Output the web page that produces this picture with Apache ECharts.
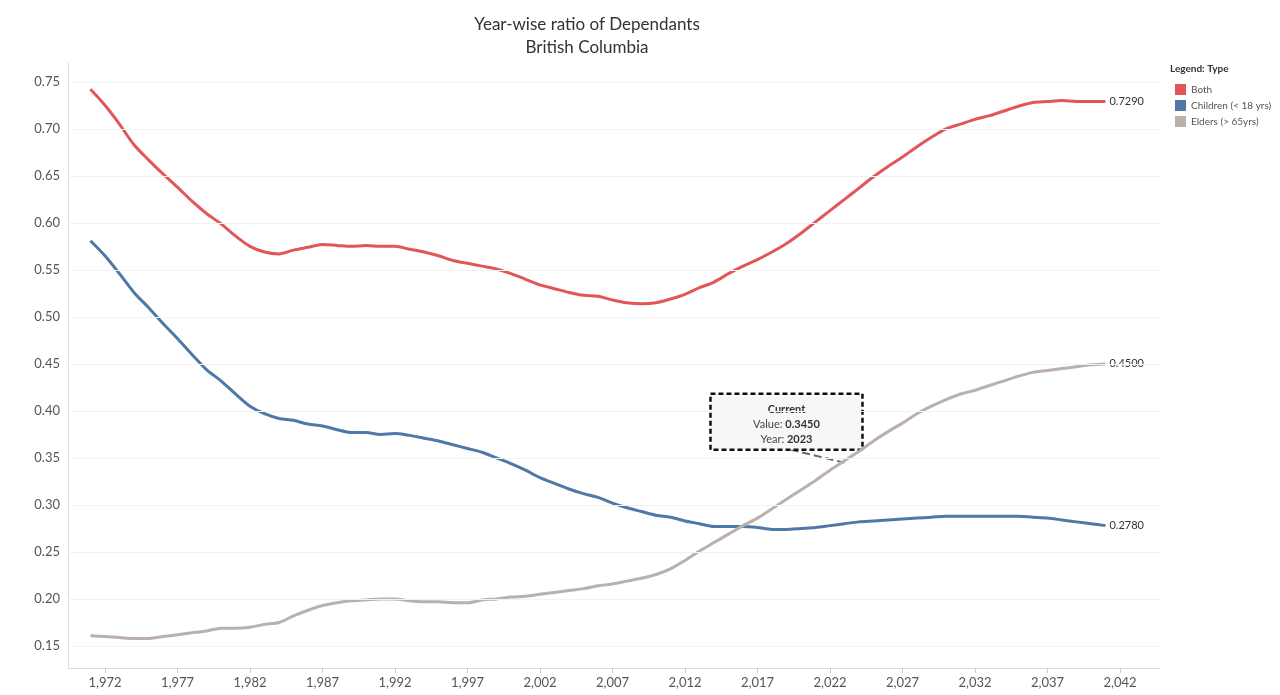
<!DOCTYPE html>
<html>
<head>
<meta charset="utf-8">
<script src="https://cdn.jsdelivr.net/npm/echarts@6/dist/echarts.min.js"></script>
<style>
  html, body { margin: 0; padding: 0; background: #fff; }
  #chart { width: 1280px; height: 695px; }
</style>
</head>
<body>
<div id="chart"></div>
<script>
const years = [];
for (let y = 1971; y <= 2041; y++) years.push(y);

const both = [
  0.742, 0.725, 0.705, 0.683, 0.667, 0.652, 0.638, 0.623, 0.610, 0.599,
  0.586, 0.575, 0.569, 0.567, 0.571, 0.574, 0.577, 0.576, 0.575, 0.576,
  0.575, 0.575, 0.572, 0.569, 0.565, 0.560, 0.557, 0.554, 0.551, 0.546,
  0.540, 0.534, 0.530, 0.526, 0.523, 0.522, 0.518, 0.515, 0.514, 0.515,
  0.519, 0.524, 0.531, 0.537, 0.546, 0.554, 0.561, 0.569, 0.578, 0.589,
  0.601, 0.613, 0.625, 0.637, 0.649, 0.660, 0.670, 0.681, 0.691, 0.700,
  0.705, 0.710, 0.714, 0.719, 0.724, 0.728, 0.729, 0.730, 0.729, 0.729,
  0.729,
];
const children = [
  0.581, 0.565, 0.546, 0.526, 0.510, 0.493, 0.477, 0.460, 0.444, 0.432,
  0.418, 0.405, 0.397, 0.392, 0.390, 0.386, 0.384, 0.380, 0.377, 0.377,
  0.375, 0.376, 0.374, 0.371, 0.368, 0.364, 0.360, 0.356, 0.350, 0.344,
  0.337, 0.329, 0.323, 0.317, 0.312, 0.308, 0.302, 0.297, 0.293, 0.289,
  0.287, 0.283, 0.280, 0.277, 0.277, 0.277, 0.276, 0.274, 0.274, 0.275,
  0.276, 0.278, 0.280, 0.282, 0.283, 0.284, 0.285, 0.286, 0.287, 0.288,
  0.288, 0.288, 0.288, 0.288, 0.288, 0.287, 0.286, 0.284, 0.282, 0.280,
  0.278,
];
const elders = [
  0.161, 0.160, 0.159, 0.158, 0.158, 0.160, 0.162, 0.164, 0.166, 0.169,
  0.169, 0.170, 0.173, 0.175, 0.182, 0.188, 0.193, 0.196, 0.198, 0.199,
  0.200, 0.200, 0.198, 0.197, 0.197, 0.196, 0.196, 0.199, 0.200, 0.202,
  0.203, 0.205, 0.207, 0.209, 0.211, 0.214, 0.216, 0.219, 0.222, 0.226,
  0.232, 0.241, 0.251, 0.260, 0.269, 0.278, 0.286, 0.296, 0.306, 0.316,
  0.326, 0.337, 0.347, 0.357, 0.368, 0.378, 0.387, 0.397, 0.405, 0.412,
  0.418, 0.422, 0.427, 0.432, 0.437, 0.441, 0.443, 0.445, 0.447, 0.449,
  0.450,
];
const xTicks = [1972, 1977, 1982, 1987, 1992, 1997, 2002, 2007, 2012, 2017, 2022, 2027, 2032, 2037, 2042];
const yTicks = [0.15, 0.2, 0.25, 0.3, 0.35, 0.4, 0.45, 0.5, 0.55, 0.6, 0.65, 0.7, 0.75];
const seriesNames = ["Both", "Children (< 18 yrs)", "Elders (> 65yrs)"];
const colors = ["#e15759", "#4e79a7", "#bab0ac"];
const current = { year: 2023, value: 0.345 };

const FONT = "Lato, 'Open Sans', sans-serif";
const chart = echarts.init(document.getElementById("chart"));

function makeSeries(name, values, color) {
  return {
    name,
    type: "line",
    data: years.map((y, i) => [y, values[i]]),
    showSymbol: false,
    smooth: 0.3,
    lineStyle: { color, width: 3 },
    itemStyle: { color },
    endLabel: {
      show: true,
      formatter: (p) => p.value[1].toFixed(4),
      color: "#333",
      fontSize: 11,
      fontFamily: FONT,
      distance: 4,
    },
  };
}

chart.setOption({
  animation: false,
  title: {
    text: "Year-wise ratio of Dependants\nBritish Columbia",
    left: 582,
    top: 8,
    textAlign: "center",
    textStyle: { fontSize: 17, fontWeight: "normal", color: "#333", lineHeight: 23, fontFamily: FONT },
  },
  legend: {
    orient: "vertical",
    left: 1170,
    top: 79,
    itemWidth: 11,
    itemHeight: 11,
    itemGap: 5,
    icon: "rect",
    data: seriesNames,
    textStyle: { fontSize: 10, color: "#555", fontFamily: FONT },
  },
  grid: { left: 68, right: 120, top: 63, bottom: 27 },
  xAxis: {
    type: "value",
    min: 1969.45,
    max: 2044.76,
    splitLine: { show: false },
    axisLine: { lineStyle: { color: "#ddd" } },
    axisTick: { show: true, customValues: xTicks, lineStyle: { color: "#ccc" } },
    axisLabel: { customValues: xTicks, color: "#555", fontSize: 13, fontFamily: FONT, margin: 8 },
  },
  yAxis: {
    type: "value",
    min: 0.1266,
    max: 0.77,
    axisLine: { show: true, lineStyle: { color: "#ddd" } },
    axisTick: { show: false },
    splitLine: { show: false },
    axisLabel: { customValues: yTicks, formatter: (v) => v.toFixed(2), color: "#555", fontSize: 13, fontFamily: FONT },
  },
  series: [
    makeSeries(seriesNames[0], both, colors[0]),
    makeSeries(seriesNames[1], children, colors[1]),
    makeSeries(seriesNames[2], elders, colors[2]),
    {
      type: "line",
      data: [],
      silent: true,
      markLine: {
        silent: true,
        symbol: "none",
        label: { show: false },
        lineStyle: { color: "#f2f2f2", type: "solid", width: 1 },
        data: yTicks.map((v) => ({ yAxis: v })),
      },
    },
  ],
});

const pt = chart.convertToPixel({ gridIndex: 0 }, [current.year, current.value]);
const boxX = pt[0] - 134, boxY = pt[1] - 69, boxW = 152, boxH = 56;
chart.setOption({
  graphic: [
    {
      type: "text",
      left: 1170,
      top: 64,
      style: { text: "Legend: Type", fontSize: 10, fontWeight: "bold", fill: "#333", fontFamily: FONT },
    },
    {
      type: "line",
      shape: { x1: boxX + 80, y1: boxY + boxH, x2: pt[0], y2: pt[1] },
      style: { stroke: "#666", lineWidth: 2, lineDash: [8, 4] },
    },
    {
      type: "rect",
      shape: { x: boxX, y: boxY, width: boxW, height: boxH },
      style: { fill: "#f7f7f7", stroke: "#111", lineWidth: 2.5, lineDash: [5, 3] },
    },
    {
      type: "text",
      x: boxX + boxW / 2,
      y: boxY + 8,
      style: {
        text: "{b|Current}\nValue: {b|0.3450}\nYear: {b|2023}",
        align: "center",
        fontSize: 11,
        lineHeight: 15,
        fill: "#444",
        fontFamily: FONT,
        rich: { b: { fontSize: 11, fontWeight: "bold", fill: "#333", fontFamily: FONT } },
      },
    },
  ],
});
</script>
</body>
</html>
